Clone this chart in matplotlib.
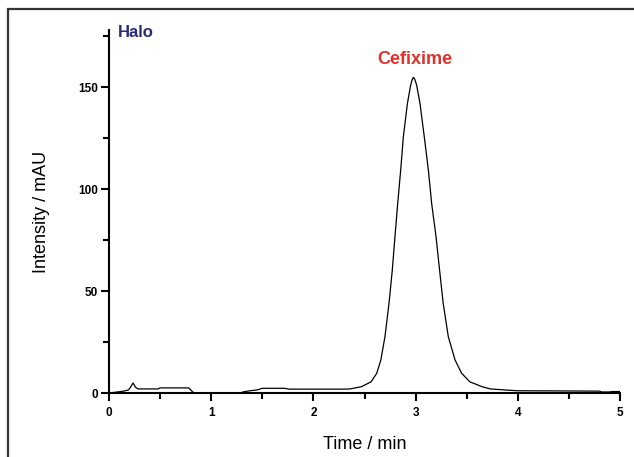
import matplotlib
matplotlib.use("Agg")
import matplotlib.pyplot as plt
from matplotlib.patches import Rectangle
from matplotlib.ticker import MultipleLocator

plt.rcParams['font.family'] = ['Liberation Sans', 'DejaVu Sans']

# chromatogram trace (time in min, intensity in mAU)
time_min = [0.0, 0.05, 0.10, 0.15, 0.19, 0.21, 0.235, 0.26, 0.28, 0.30, 0.48, 0.50,
            0.78, 0.80, 0.83, 1.28, 1.32, 1.38, 1.45, 1.50, 1.72, 1.76, 2.30, 2.36,
            2.47, 2.565, 2.62, 2.66, 2.70, 2.74, 2.772, 2.798, 2.825, 2.854, 2.88, 2.92,
            2.95, 2.965, 2.978, 2.992, 3.01, 3.043, 3.085, 3.125, 3.157, 3.20, 3.245, 3.27,
            3.32, 3.386, 3.45, 3.53, 3.65, 3.73, 3.90, 4.00, 4.50, 4.80, 4.82, 4.90,
            4.92, 5.0]
intensity = [0.0, 0.3, 0.6, 1.0, 1.5, 2.8, 4.9, 2.8, 2.1, 2.0, 2.0, 2.5,
             2.5, 1.5, 0.0, 0.0, 0.6, 1.1, 1.5, 2.3, 2.3, 1.9, 1.9, 2.0,
             3.1, 5.5, 9.7, 16.2, 27.6, 44.0, 60.3, 76.6, 93.0, 109.3, 125.6, 142.0,
             150.5, 153.5, 154.8, 153.8, 151.0, 142.0, 125.6, 109.3, 93.0, 76.6, 55.4, 44.0,
             27.6, 16.2, 9.7, 5.5, 3.1, 2.0, 1.4, 1.1, 1.0, 0.9, 0.5, 0.5,
             0.7, 0.7]

x_ticks = [0, 1, 2, 3, 4, 5]
y_ticks = [0, 50, 100, 150]

fig = plt.figure(figsize=(6.34, 4.57), dpi=100)
ax = fig.add_axes([109 / 634, 1 - 393 / 457, 511 / 634, 363 / 457])

# outer frame of the original figure panel
fig.patches.append(Rectangle((8 / 634, -0.1), 1.2, 1 - 9 / 457 + 0.1,
                             transform=fig.transFigure, fill=False,
                             edgecolor='#333333', linewidth=1.6))

ax.plot(time_min, intensity, color='black', linewidth=0.9)

ax.set_xlim(0, 5)
ax.set_ylim(0, 178)
ax.set_xticks(x_ticks)
ax.set_yticks(y_ticks)
ax.xaxis.set_minor_locator(MultipleLocator(0.5))
ax.yaxis.set_minor_locator(MultipleLocator(25))

for side in ['top', 'right']:
    ax.spines[side].set_visible(False)
for side in ['left', 'bottom']:
    ax.spines[side].set_linewidth(1.5)

ax.tick_params(which='major', direction='out', length=6, width=1.5, labelsize=8.5)
ax.tick_params(axis='y', which='major', pad=2)
ax.tick_params(axis='x', which='major', pad=4)
ax.tick_params(which='minor', direction='out', length=4, width=1.5)
for lab in ax.get_xticklabels() + ax.get_yticklabels():
    lab.set_fontweight('bold')

ax.set_xlabel('Time / min', fontsize=13, labelpad=12)
ax.set_ylabel('Intensity / mAU', fontsize=13, labelpad=20)

ax.text(0.09, 177, 'Halo', color='#2b2a7a', fontsize=12, fontweight='bold',
        ha='left', va='center')
ax.text(2.99, 163.5, 'Cefixime', color='#e0302a', fontsize=13, fontweight='bold',
        ha='center', va='center')

fig.savefig('out.png', dpi=100)
